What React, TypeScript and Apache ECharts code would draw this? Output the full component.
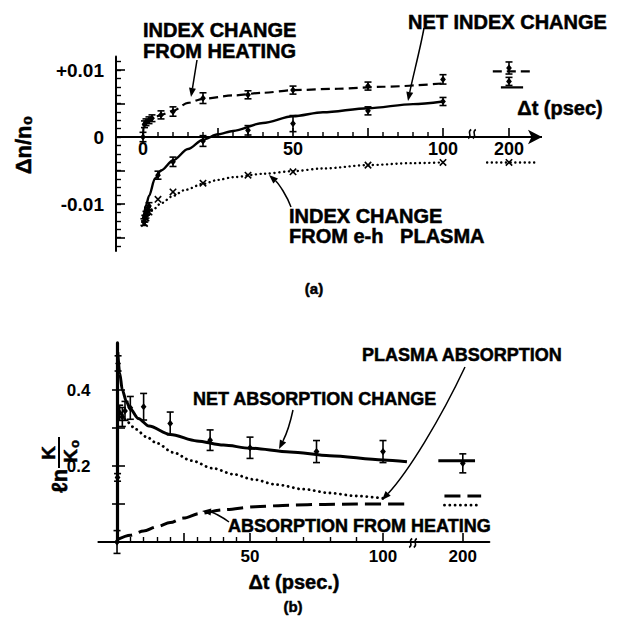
import React, { useEffect, useRef } from 'react';
import * as echarts from 'echarts';

const FONT = '"Liberation Sans", Arial, Helvetica, sans-serif';

// ---------------- Panel (a): index change Δn/n0 ----------------
// measured points (t in ps)
const tHeatA = [0, 0.5, 1, 2, 3, 6, 10, 20, 35, 50, 75, 100, 200];
const heatA = [0, 0.0019, 0.0022, 0.0025, 0.0028, 0.0033, 0.0038, 0.0058, 0.0063, 0.007, 0.0076, 0.0086, 0.0103];
const heatAErr = [0.0007, 0.0005, 0.0005, 0.0005, 0.0005, 0.0006, 0.0007, 0.0008, 0.0006, 0.0006, 0.0006, 0.0007, 0.0009];

const tNetA = [0.3, 0.6, 1, 1.5, 2, 5, 10, 20, 35, 50, 75, 100, 200];
const netA = [-0.0127, -0.0122, -0.0116, -0.011, -0.0103, -0.0057, -0.0037, -0.0006, 0.001, 0.002, 0.0039, 0.0053, 0.0083];
const netAErr = [0.0005, 0.0005, 0.0005, 0.0005, 0.0005, 0.0006, 0.0007, 0.0008, 0.0007, 0.0012, 0.0006, 0.0006, 0.0006];

const tPlasA = [0.5, 1, 2, 5, 10, 20, 35, 50, 75, 100, 200];
const plasA = [-0.0129, -0.0121, -0.0112, -0.0093, -0.0082, -0.0069, -0.0057, -0.0052, -0.0042, -0.0038, -0.0038];

// fitted curves
const tHeatCurveA = [0, 0.2, 1, 2, 4, 6, 10, 15, 20, 30, 40, 50, 65, 80, 100];
const heatCurveA = [0, 0.0015, 0.0022, 0.0026, 0.003, 0.0033, 0.0039, 0.0051, 0.0057, 0.0062, 0.0066, 0.007, 0.0072, 0.0075, 0.008];
const tNetCurveA = [0, 0.3, 1, 2, 4, 6, 10, 15, 20, 25, 30, 40, 50, 60, 75, 90, 100];
const netCurveA = [-0.0122, -0.0115, -0.0102, -0.0088, -0.0062, -0.005, -0.0035, -0.0018, -0.0004, 0.0004, 0.0009, 0.0021, 0.0031, 0.0037, 0.0043, 0.0049, 0.0053];
const tPlasCurveA = [0.5, 1, 3, 6, 10, 14, 20, 25, 30, 40, 50, 60, 75, 90, 100];
const plasCurveA = [-0.0128, -0.0124, -0.011, -0.0099, -0.0088, -0.0079, -0.007, -0.0064, -0.006, -0.0055, -0.0051, -0.0047, -0.0042, -0.0039, -0.0038];

// curve levels at t = 200 ps
const heatSegA = 0.0098;
const netSegA = 0.0074;
const plasSegA = -0.0038;

const xLabelsA = [0, 50, 100, 200];
const xMajorTicksA = [25, 50, 75, 100, 200];
const xMinorTicksA = [5, 10, 15, 20, 30, 35, 40, 45, 55, 60, 65, 70, 80, 85, 90, 95];
const yLabelsA = [-0.01, 0, 0.01];
const yLabelTextA = ['-0.01', '0', '+0.01'];
const yMajorTicksA = [-0.015, -0.01, -0.005, 0, 0.005, 0.01];

// ---------------- Panel (b): ln K/K0 ----------------
const tNetB = [0, 0.2, 0.4, 1, 2, 3, 5, 10, 20, 35, 50, 75, 100, 200];
const netB = [0.0, 0.17, 0.47, 0.34, 0.329, 0.345, 0.353, 0.356, 0.312, 0.268, 0.248, 0.238, 0.238, 0.207];
const netBErr = [0.03, 0.01, 0.02, 0.02, 0.025, 0.025, 0.03, 0.035, 0.03, 0.027, 0.028, 0.029, 0.029, 0.025];

const tNetCurveB = [0.3, 1, 2, 3.5, 5, 8, 12, 20, 30, 40, 50, 65, 80, 100, 109];
const netCurveB = [0.5, 0.445, 0.4, 0.37, 0.35, 0.325, 0.305, 0.283, 0.266, 0.255, 0.247, 0.237, 0.227, 0.216, 0.211];
const tPlasCurveB = [2, 4, 7, 11, 15, 21, 28, 36, 44, 51, 60, 70, 80, 90, 100];
const plasCurveB = [0.335, 0.315, 0.297, 0.277, 0.26, 0.236, 0.214, 0.194, 0.178, 0.165, 0.151, 0.139, 0.129, 0.121, 0.115];
const tHeatCurveB = [0, 5, 10, 15, 20, 25, 31, 40, 52, 65, 78, 90, 108];
const heatCurveB = [0.006, 0.018, 0.029, 0.04, 0.051, 0.063, 0.075, 0.085, 0.093, 0.097, 0.099, 0.1, 0.1];

const netSegB = 0.214;
const heatSegB = 0.121;
const plasSegB = 0.097;

const xLabelsB = [50, 100, 200];
const xMajorTicksB = [25, 50, 100, 200];
const xMinorTicksB = [5, 10, 15, 20, 30, 35, 40, 45, 60, 70, 80, 90];
const yLabelsB = [0.2, 0.4];
const yTicksB = [0.1, 0.2, 0.3, 0.4];

// broken time axis: 200 ps is drawn just past the break
const BREAK_A = 122;
const BREAK_B = 130;
const dispA = (t: number) => (t >= 150 ? BREAK_A : t);
const dispB = (t: number) => (t >= 150 ? BREAK_B : t);

// panel (a) geometry: y range and grid box; the time axis is drawn on Δn = 0
const Y_MIN_A = -0.017;
const Y_MAX_A = 0.012;
const GRID_A = { left: 116, width: 426, top: 56.6, height: 194.3 };
const ZERO_OFFSET_A = -(GRID_A.height * (0 - Y_MIN_A)) / (Y_MAX_A - Y_MIN_A);
const TICK_LONG = 9;
const TICK_SHORT = 5;

const yMinorTicksA: number[] = [];
for (let k = -13; k <= 9; k++) yMinorTicksA.push(k * 0.00125);

const pairs = (ts: number[], vs: number[], f: (t: number) => number) => ts.map((t, i) => [f(t), vs[i]]);
const triples = (ts: number[], vs: number[], es: number[], f: (t: number) => number) =>
  ts.map((t, i) => [f(t), vs[i], es[i]]);

const errRender = (params: any, api: any) => {
  const x = api.value(0), y = api.value(1), e = api.value(2);
  const c = api.coord([x, y]);
  const hi = api.coord([x, y + e]);
  const lo = api.coord([x, y - e]);
  const cap = 3.5, d = 3.6;
  const st = { stroke: '#000', lineWidth: 1.6 };
  return {
    type: 'group',
    children: [
      { type: 'line', shape: { x1: c[0], y1: hi[1], x2: c[0], y2: lo[1] }, style: st },
      { type: 'line', shape: { x1: c[0] - cap, y1: hi[1], x2: c[0] + cap, y2: hi[1] }, style: st },
      { type: 'line', shape: { x1: c[0] - cap, y1: lo[1], x2: c[0] + cap, y2: lo[1] }, style: st },
      {
        type: 'polygon',
        shape: { points: [[c[0], c[1] - d], [c[0] + d * 0.8, c[1]], [c[0], c[1] + d], [c[0] - d * 0.8, c[1]]] },
        style: { fill: '#000' },
      },
    ],
  };
};

const xRender = (params: any, api: any) => {
  const c = api.coord([api.value(0), api.value(1)]);
  const s = 3.2;
  const st = { stroke: '#000', lineWidth: 1.6 };
  return {
    type: 'group',
    children: [
      { type: 'line', shape: { x1: c[0] - s, y1: c[1] - s, x2: c[0] + s, y2: c[1] + s }, style: st },
      { type: 'line', shape: { x1: c[0] - s, y1: c[1] + s, x2: c[0] + s, y2: c[1] - s }, style: st },
    ],
  };
};

// tick marks standing up from the Δn = 0 time axis of panel (a)
const tickRender = (params: any, api: any) => {
  const c = api.coord([api.value(0), 0]);
  const len = api.value(1);
  return {
    type: 'line',
    shape: { x1: c[0], y1: c[1], x2: c[0], y2: c[1] - len },
    style: { stroke: '#000', lineWidth: len > 6 ? 1.6 : 1.4 },
  };
};

const SOLID_A = { color: '#000', width: 2.4, type: 'solid' };
const DASH_A = { color: '#000', width: 2.2, type: [9, 5] };
const DOT_A = { color: '#000', width: 2.4, type: [0.1, 4.6], cap: 'round' };
const SOLID_B = { color: '#000', width: 3, type: 'solid' };
const DASH_B = { color: '#000', width: 3, type: [16, 7] };
const DOT_B = { color: '#000', width: 2.8, type: [0.1, 5.2], cap: 'round' };

const lineSeries = (data: any[], style: any, xi: number, yi: number, smooth = 0.3, extra: any = {}) => ({
  type: 'line',
  xAxisIndex: xi,
  yAxisIndex: yi,
  data,
  symbol: 'none',
  showSymbol: false,
  smooth,
  smoothMonotone: 'x',
  lineStyle: style,
  silent: true,
  z: 3,
  ...extra,
});

const text = (t: string, x: number, y: number, align: string, size: number, extra: any = {}, lh?: number) => ({
  type: 'text',
  x,
  y,
  silent: true,
  ...extra,
  style: {
    text: t,
    fill: '#000',
    stroke: '#000',
    lineWidth: 0.5,
    fontFamily: FONT,
    fontWeight: 'bold',
    fontSize: size,
    lineHeight: lh || size,
    align,
    verticalAlign: 'middle',
    textAlign: align,
    textVerticalAlign: 'middle',
  },
});

const arrow = (p0: number[], c1: number[], c2: number[], p3: number[], hl = 9, hw = 3.5) => {
  const dx = p3[0] - c2[0], dy = p3[1] - c2[1];
  const L = Math.hypot(dx, dy) || 1;
  const ux = dx / L, uy = dy / L, nx = -uy, ny = ux;
  const bx = p3[0] - ux * hl, by = p3[1] - uy * hl;
  return [
    {
      type: 'bezierCurve',
      silent: true,
      shape: { x1: p0[0], y1: p0[1], cpx1: c1[0], cpy1: c1[1], cpx2: c2[0], cpy2: c2[1], x2: bx, y2: by },
      style: { stroke: '#000', lineWidth: 1.5, fill: 'none' },
    },
    {
      type: 'polygon',
      silent: true,
      shape: { points: [[p3[0], p3[1]], [bx + nx * hw, by + ny * hw], [bx - nx * hw, by - ny * hw]] },
      style: { fill: '#000' },
    },
  ];
};

const breakMark = (cx: number, cy: number) =>
  [-2.3, 2.3].map((o) => ({
    type: 'bezierCurve',
    silent: true,
    shape: {
      x1: cx + o - 1.5, y1: cy + 4.5, cpx1: cx + o + 3.5, cpy1: cy + 1.5,
      cpx2: cx + o - 3.5, cpy2: cy - 1.5, x2: cx + o + 1.5, y2: cy - 4.5,
    },
    style: { stroke: '#000', lineWidth: 1.5, fill: 'none' },
  }));

const near = (a: number, b: number) => Math.abs(a - b) < 1e-6;

const buildOption = () => {
  const axisLabelBase = { color: '#000', fontFamily: FONT, fontWeight: 'bold' };
  const seg = (pos: number, half: number, v: number) => [[pos - half, v], [pos + half, v]];

  // time axis of panel (a) with its arrow, drawn on Δn = 0
  const zeroLineA = {
    silent: true,
    symbol: ['none', 'arrow'],
    symbolSize: [11, 14],
    lineStyle: { color: '#000', width: 2, type: 'solid' },
    label: { show: false },
    emphasis: { disabled: true },
    data: [{ yAxis: 0 }],
  };

  const tickDataA = [
    ...xMajorTicksA.map((t) => [dispA(t), TICK_LONG]),
    ...xMinorTicksA.map((t) => [dispA(t), TICK_SHORT]),
  ];

  return {
    animation: false,
    backgroundColor: '#fff',
    grid: [
      { ...GRID_A },
      { left: 98.4, width: 391, top: 342.9, height: 199.1 },
    ],
    xAxis: [
      {
        gridIndex: 0, type: 'value', min: -9, max: 133, position: 'bottom', offset: ZERO_OFFSET_A,
        axisLine: { show: false, onZero: false },
        axisTick: { show: false },
        axisLabel: {
          ...axisLabelBase, fontSize: 18, margin: 3, customValues: xLabelsA.map(dispA),
          formatter: (v: number) => (near(v, BREAK_A) ? '200' : String(Math.round(v))),
        },
        splitLine: { show: false },
      },
      {
        gridIndex: 0, type: 'value', min: -9, max: 133, position: 'bottom',
        axisLine: { show: false, onZero: false },
        axisTick: { show: false },
        axisLabel: { show: false },
        splitLine: { show: false },
      },
      {
        gridIndex: 1, type: 'value', min: -7, max: 140, position: 'bottom',
        axisLine: { show: true, onZero: true, lineStyle: { color: '#000', width: 2 } },
        axisTick: { show: true, inside: true, length: 9, lineStyle: { color: '#000', width: 1.6 }, customValues: xMajorTicksB.map(dispB) },
        axisLabel: {
          ...axisLabelBase, fontSize: 17, margin: 6, customValues: xLabelsB.map(dispB),
          formatter: (v: number) => (near(v, BREAK_B) ? '200' : String(Math.round(v))),
        },
        splitLine: { show: false },
      },
      {
        gridIndex: 1, type: 'value', min: -7, max: 140, position: 'bottom',
        axisLine: { show: false, onZero: true },
        axisTick: { show: true, inside: true, length: 5, lineStyle: { color: '#000', width: 1.4 }, customValues: xMinorTicksB },
        axisLabel: { show: false },
        splitLine: { show: false },
      },
    ],
    yAxis: [
      {
        gridIndex: 0, type: 'value', min: Y_MIN_A, max: Y_MAX_A, position: 'left',
        axisLine: { show: true, onZero: false, lineStyle: { color: '#000', width: 2 } },
        axisTick: { show: true, inside: true, length: 9, lineStyle: { color: '#000', width: 1.6 }, customValues: yMajorTicksA },
        axisLabel: {
          ...axisLabelBase, fontSize: 19, margin: 12, customValues: yLabelsA,
          formatter: (v: number) => {
            const i = yLabelsA.findIndex((u) => near(u, v));
            return i >= 0 ? yLabelTextA[i] : '';
          },
        },
        splitLine: { show: false },
      },
      {
        gridIndex: 0, type: 'value', min: Y_MIN_A, max: Y_MAX_A, position: 'left',
        axisLine: { show: false, onZero: false },
        axisTick: { show: true, inside: true, length: 5, lineStyle: { color: '#000', width: 1.4 }, customValues: yMinorTicksA },
        axisLabel: { show: false },
        splitLine: { show: false },
      },
      {
        gridIndex: 1, type: 'value', min: 0, max: 0.524, position: 'left',
        axisLine: { show: true, onZero: true, lineStyle: { color: '#000', width: 3.2 } },
        axisTick: { show: true, inside: true, length: 8, lineStyle: { color: '#000', width: 1.6 }, customValues: yTicksB },
        axisLabel: {
          ...axisLabelBase, fontSize: 17, margin: 8, customValues: yLabelsB,
          formatter: (v: number) => v.toFixed(1),
        },
        splitLine: { show: false },
      },
      {
        gridIndex: 1, type: 'value', min: 0, max: 0.524, position: 'left',
        axisLine: { show: false, onZero: true },
        axisTick: { show: true, inside: false, length: 5, lineStyle: { color: '#000', width: 1.6 }, customValues: yTicksB },
        axisLabel: { show: false },
        splitLine: { show: false },
      },
    ],
    series: [
      // panel (a) curves
      lineSeries(pairs(tHeatCurveA, heatCurveA, dispA), DASH_A, 0, 0, 0.3, { markLine: zeroLineA }),
      lineSeries(pairs(tNetCurveA, netCurveA, dispA), SOLID_A, 0, 0),
      lineSeries(pairs(tPlasCurveA, plasCurveA, dispA), DOT_A, 0, 0),
      lineSeries(seg(BREAK_A + 1.3, 6.7, heatSegA), DASH_A, 0, 0, 0),
      lineSeries(seg(BREAK_A + 1, 3.7, netSegA), SOLID_A, 0, 0, 0),
      lineSeries(seg(BREAK_A + 1, 8.3, plasSegA), DOT_A, 0, 0, 0),
      // panel (a) time-axis ticks
      { type: 'custom', xAxisIndex: 0, yAxisIndex: 0, renderItem: tickRender, data: tickDataA, encode: { x: 0 }, clip: false, silent: true, z: 4 },
      // panel (a) points
      { type: 'custom', xAxisIndex: 0, yAxisIndex: 0, renderItem: errRender, data: triples(tHeatA, heatA, heatAErr, dispA), encode: { x: 0, y: 1 }, clip: false, silent: true, z: 5 },
      { type: 'custom', xAxisIndex: 0, yAxisIndex: 0, renderItem: errRender, data: triples(tNetA, netA, netAErr, dispA), encode: { x: 0, y: 1 }, clip: false, silent: true, z: 5 },
      { type: 'custom', xAxisIndex: 0, yAxisIndex: 0, renderItem: xRender, data: pairs(tPlasA, plasA, dispA), encode: { x: 0, y: 1 }, clip: false, silent: true, z: 5 },
      // panel (b) curves
      lineSeries(pairs(tNetCurveB, netCurveB, dispB), SOLID_B, 2, 2),
      lineSeries(pairs(tPlasCurveB, plasCurveB, dispB), DOT_B, 2, 2),
      lineSeries(pairs(tHeatCurveB, heatCurveB, dispB), DASH_B, 2, 2),
      lineSeries(seg(BREAK_B - 2.3, 6.9, netSegB), SOLID_B, 2, 2, 0),
      lineSeries(seg(BREAK_B, 6.9, heatSegB), DASH_B, 2, 2, 0),
      lineSeries(seg(BREAK_B, 6.9, plasSegB), DOT_B, 2, 2, 0),
      // panel (b) points
      { type: 'custom', xAxisIndex: 2, yAxisIndex: 2, renderItem: errRender, data: triples(tNetB, netB, netBErr, dispB), encode: { x: 0, y: 1 }, clip: false, silent: true, z: 5 },
    ],
    graphic: {
      elements: [
        // panel (a) annotations
        text('INDEX CHANGE\nFROM HEATING', 143, 40, 'left', 20, {}, 21),
        text('NET INDEX CHANGE', 408, 22, 'left', 20),
        text('INDEX CHANGE\nFROM e-h   PLASMA', 289, 225.5, 'left', 20, {}, 20),
        text('Δt (psec)', 560, 108, 'center', 20),
        text('(a)', 314, 288, 'center', 15),
        text('Δn/n₀', 23, 145, 'center', 22, { rotation: Math.PI / 2 }),
        ...arrow([197, 60], [195, 72], [193, 85], [191, 97]),
        ...arrow([424, 28], [420, 50], [413, 76], [408, 101]),
        ...arrow([291, 207], [287, 196], [279, 184], [269, 175]),
        ...breakMark(472, 134),
        // panel (b) annotations
        text('NET ABSORPTION CHANGE', 193, 399, 'left', 18),
        text('PLASMA ABSORPTION', 362, 355, 'left', 18),
        text('ABSORPTION FROM HEATING', 228, 526, 'left', 18),
        text('Δt (psec.)', 294, 582, 'center', 20),
        text('(b)', 293, 606, 'center', 15),
        ...arrow([293, 410], [290, 424], [285, 437], [279, 449]),
        ...arrow([465, 367], [440, 420], [408, 472], [382, 500]),
        ...arrow([229, 522], [221, 516], [212, 512], [202, 511]),
        ...breakMark(413, 543),
        {
          type: 'group',
          x: 59,
          y: 468,
          rotation: Math.PI / 2,
          silent: true,
          children: [
            text('ℓn', -13, 0, 'center', 22),
            { type: 'line', shape: { x1: 0, y1: 0, x2: 31, y2: 0 }, style: { stroke: '#000', lineWidth: 2 } },
            text('K', 15, -11, 'center', 19),
            text('K', 12, 11, 'center', 19),
            text('o', 24, 15, 'center', 13),
          ],
        },
      ],
    },
  };
};

export default function App() {
  const ref = useRef<HTMLDivElement>(null);
  useEffect(() => {
    if (!ref.current) return;
    const chart = echarts.init(ref.current, null, { renderer: 'svg' });
    chart.setOption(buildOption() as any);
    return () => chart.dispose();
  }, []);
  return (
    <div
      ref={ref}
      style={{ position: 'fixed', left: 0, top: 0, width: 623, height: 624, background: '#fff' }}
    />
  );
}
